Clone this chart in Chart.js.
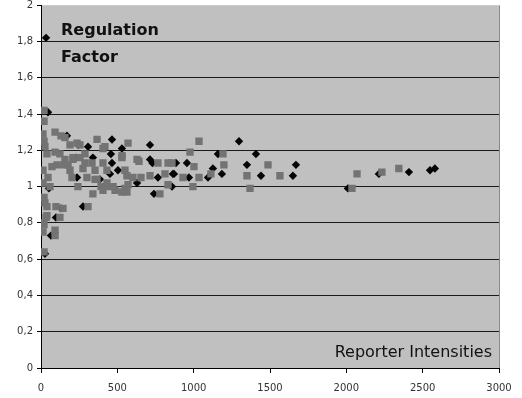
<!DOCTYPE html>
<html>
<head>
<meta charset="utf-8">
<script src="https://cdn.jsdelivr.net/npm/chart.js@4/dist/chart.umd.min.js"></script>
<style>
  body { margin: 0; background: #fff; }
  #wrap { width: 522px; height: 398px; }
</style>
</head>
<body>
<div id="wrap"><canvas id="scatter" width="522" height="398"></canvas></div>
<script>
// Axis settings / tick labels
const xTicks = [0, 500, 1000, 1500, 2000, 2500, 3000];
const yTicks = [0, 0.2, 0.4, 0.6, 0.8, 1, 1.2, 1.4, 1.6, 1.8, 2];
const labelTop = ['Regulation', 'Factor'];
const labelBottom = 'Reporter Intensities';

// Black diamonds: [intensity, factor]
const blackPoints = [
  [33, 1.82], [46, 1.41], [170, 1.28], [245, 1.23], [308, 1.22], [465, 1.26],
  [458, 1.18], [530, 1.21], [714, 1.23], [229, 1.16], [340, 1.16], [465, 1.13],
  [504, 1.09], [452, 1.07], [714, 1.15], [730, 1.13], [884, 1.13], [956, 1.13],
  [766, 1.05], [871, 1.07], [969, 1.05], [236, 1.05], [386, 1.04], [629, 1.02],
  [740, 0.96], [1297, 1.25], [1159, 1.18], [1408, 1.18], [1126, 1.10], [1349, 1.12],
  [1670, 1.12], [864, 1.07], [1185, 1.07], [1094, 1.05], [1441, 1.06], [1650, 1.06],
  [858, 1.00], [2010, 0.99], [2213, 1.07], [2410, 1.08], [2548, 1.09], [2580, 1.10],
  [52, 0.99], [65, 0.73], [26, 0.63], [131, 0.88], [275, 0.89], [98, 0.83]
];

// Gray squares: [intensity, factor]
const grayPoints = [
  [20, 1.42], [20, 1.36], [13, 1.29], [20, 1.25], [26, 1.22], [39, 1.18], [13, 1.09],
  [13, 1.02], [46, 1.05], [59, 1.00], [20, 0.94], [26, 0.91], [39, 0.89], [39, 0.84],
  [13, 0.80], [13, 0.75], [92, 0.76], [92, 0.73], [20, 0.64], [33, 0.83], [124, 0.83],
  [98, 0.89], [144, 0.88], [308, 0.89], [20, 0.79],
  [92, 1.30], [131, 1.28], [157, 1.27], [236, 1.24], [92, 1.19], [124, 1.18], [72, 1.11],
  [105, 1.12], [157, 1.15], [177, 1.12], [210, 1.15], [190, 1.23], [255, 1.23], [367, 1.26],
  [419, 1.22], [406, 1.21], [288, 1.18], [210, 1.16], [255, 1.16], [288, 1.13], [334, 1.13],
  [406, 1.13], [530, 1.16], [150, 1.12], [190, 1.09], [275, 1.10], [354, 1.09], [432, 1.09],
  [550, 1.09], [203, 1.05], [242, 1.00], [301, 1.05], [354, 1.04], [432, 1.02], [472, 1.00],
  [550, 0.99], [340, 0.96], [406, 0.98], [530, 0.97], [563, 0.97], [367, 1.04], [393, 1.00],
  [432, 1.00], [485, 0.98], [570, 1.24], [531, 1.17], [629, 1.15], [642, 1.14], [766, 1.13],
  [832, 1.13], [563, 1.06], [602, 1.05], [655, 1.05], [714, 1.06], [812, 1.07], [930, 1.05],
  [570, 1.01], [832, 1.01], [995, 1.00], [779, 0.96], [1035, 1.25], [976, 1.19], [1192, 1.18],
  [858, 1.13], [1002, 1.11], [1198, 1.12], [1487, 1.12], [1035, 1.05], [1113, 1.07],
  [1349, 1.06], [1565, 1.06], [1369, 0.99], [2037, 0.99], [2070, 1.07], [2233, 1.08], [2344, 1.10]
];

const toXY = arr => arr.map(p => ({ x: p[0], y: p[1] }));
const fmt = v => String(Math.round(v * 10) / 10).replace('.', ',');

// gray plot background, right border and the two in-plot captions
const decor = {
  id: 'decor',
  beforeDraw(chart) {
    const { ctx, chartArea: a } = chart;
    ctx.save();
    ctx.fillStyle = '#c0c0c0';
    ctx.fillRect(a.left, a.top, a.right - a.left, a.bottom - a.top);
    ctx.restore();
  },
  afterDraw(chart) {
    const { ctx, chartArea: a } = chart;
    ctx.save();
    ctx.strokeStyle = '#8a8a8a';
    ctx.lineWidth = 1;
    ctx.beginPath();
    ctx.moveTo(a.right + 0.5, a.top);
    ctx.lineTo(a.right + 0.5, a.bottom);
    ctx.stroke();

    ctx.fillStyle = '#111';
    ctx.textBaseline = 'alphabetic';
    ctx.font = 'bold 16px "DejaVu Sans"';
    ctx.textAlign = 'left';
    ctx.fillText(labelTop[0], a.left + 20, 35);
    ctx.fillText(labelTop[1], a.left + 20, 62);

    ctx.font = '16px "DejaVu Sans"';
    ctx.textAlign = 'right';
    ctx.fillText(labelBottom, a.right - 7, a.bottom - 11);
    ctx.restore();
  }
};

new Chart(document.getElementById('scatter'), {
  type: 'scatter',
  data: {
    datasets: [
      {
        label: 'gray',
        data: toXY(grayPoints),
        pointStyle: 'rect',
        pointRadius: 5.2,
        pointBorderWidth: 0,
        backgroundColor: '#737373',
        borderColor: '#737373',
        order: 0
      },
      {
        label: 'black',
        data: toXY(blackPoints),
        pointStyle: 'rectRot',
        pointRadius: 4.2,
        pointBorderWidth: 0,
        backgroundColor: '#050505',
        borderColor: '#050505',
        order: 1
      }
    ]
  },
  options: {
    responsive: false,
    animation: false,
    layout: { padding: { left: 0, right: 23, top: 0, bottom: 0 } },
    plugins: {
      legend: { display: false },
      tooltip: { enabled: false }
    },
    scales: {
      x: {
        type: 'linear',
        min: 0,
        max: 3000,
        afterBuildTicks: s => { s.ticks = xTicks.map(v => ({ value: v })); },
        afterFit: s => { s.height = 30; },
        border: { color: '#000', width: 1 },
        grid: { drawOnChartArea: false, drawTicks: true, tickLength: 5, tickColor: '#000' },
        ticks: {
          color: '#333',
          font: { family: 'DejaVu Sans', size: 10 },
          padding: 9,
          maxRotation: 0,
          callback: v => String(v)
        }
      },
      y: {
        type: 'linear',
        min: 0,
        max: 2,
        afterBuildTicks: s => { s.ticks = yTicks.map(v => ({ value: v })); },
        afterFit: s => { s.width = 41; s.paddingTop = 5; s.paddingBottom = 0; },
        border: { color: '#000', width: 1 },
        grid: {
          drawTicks: true,
          tickLength: 4,
          tickColor: '#000',
          lineWidth: 1,
          color: c => (c.tick && (c.tick.value === 2 || c.tick.value === 0)) ? 'rgba(0,0,0,0)' : '#1a1a1a'
        },
        ticks: {
          color: '#333',
          font: { family: 'DejaVu Sans', size: 10 },
          padding: 4,
          callback: v => fmt(v)
        }
      }
    }
  },
  plugins: [decor]
});
</script>
</body>
</html>
